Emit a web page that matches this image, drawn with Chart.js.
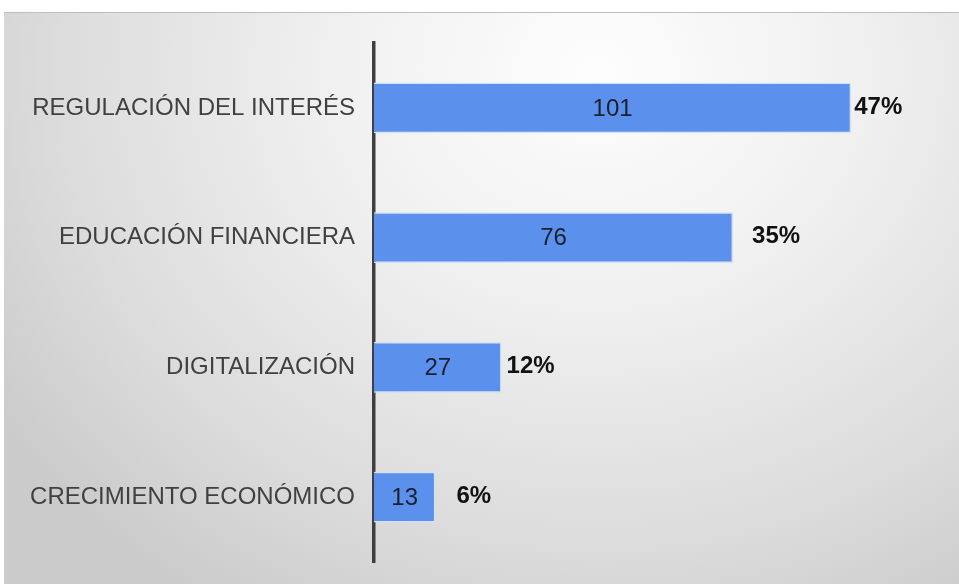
<!DOCTYPE html>
<html>
<head>
<meta charset="utf-8">
<script src="https://cdn.jsdelivr.net/npm/chart.js@4/dist/chart.umd.min.js"></script>
<style>
  html, body { margin: 0; padding: 0; background: #fff; }
  #wrap {
    position: relative; width: 959px; height: 584px;
  }
  #bg {
    position: absolute; left: 4px; top: 12px; width: 955px; height: 572px;
    background: radial-gradient(ellipse 75% 110% at 62% 10%, #fdfdfd 0%, #f1f1f1 35%, #dcdcdc 75%, #cbcbcb 100%);
    border-top: 1px solid #bdbdbd;
  }
  canvas { position: absolute; left: 0; top: 0; }
</style>
</head>
<body>
<div id="wrap">
  <div id="bg"></div>
  <canvas id="barChart" width="959" height="584"></canvas>
</div>
<script>
const categories = ["REGULACIÓN DEL INTERÉS", "EDUCACIÓN FINANCIERA", "DIGITALIZACIÓN", "CRECIMIENTO ECONÓMICO"];
const counts = [101, 76, 27, 13];
const shares = ["47%", "35%", "12%", "6%"];

// gap between bar end and the percent label, as in the original layout
const shareGap = [3, 19, 5, 21];

const labelPlugin = {
  id: "barLabels",
  afterDatasetsDraw(chart) {
    const ctx = chart.ctx;
    const meta = chart.getDatasetMeta(0);
    ctx.save();
    ctx.textBaseline = "middle";
    meta.data.forEach(function (bar, i) {
      ctx.font = "24px 'Liberation Sans', Arial, sans-serif";
      ctx.fillStyle = "#1b1f2b";
      ctx.textAlign = "center";
      ctx.fillText(String(counts[i]), (bar.x + bar.base) / 2, bar.y + 1);

      ctx.font = "bold 24px 'Liberation Sans', Arial, sans-serif";
      ctx.fillStyle = "#111";
      ctx.textAlign = "left";
      ctx.fillText(shares[i], bar.x + shareGap[i], bar.y - 1);
    });
    ctx.restore();
  }
};

const ctx = document.getElementById("barChart").getContext("2d");
new Chart(ctx, {
  type: "bar",
  data: {
    labels: categories,
    datasets: [{
      data: counts,
      backgroundColor: "#5b91ec",
      borderColor: "#cfe2f7",
      borderWidth: 1.5,
      categoryPercentage: 1,
      barPercentage: 0.39
    }]
  },
  options: {
    indexAxis: "y",
    responsive: false,
    maintainAspectRatio: false,
    animation: false,
    layout: {
      padding: { left: 0, right: 18, top: 43, bottom: 22 }
    },
    plugins: {
      legend: { display: false },
      tooltip: { enabled: false }
    },
    scales: {
      x: {
        display: false,
        min: 0,
        max: 120
      },
      y: {
        afterFit(scale) {
          scale.width = 374;
          scale.paddingTop = 0;
          scale.paddingBottom = 0;
        },
        grid: { display: false, drawTicks: false },
        border: { display: true, color: "#3f3f3f", width: 3.5 },
        ticks: {
          padding: 19,
          color: "#404040",
          font: { family: "'Liberation Sans', Arial, sans-serif", size: 24 }
        }
      }
    }
  },
  plugins: [labelPlugin]
});
</script>
</body>
</html>
